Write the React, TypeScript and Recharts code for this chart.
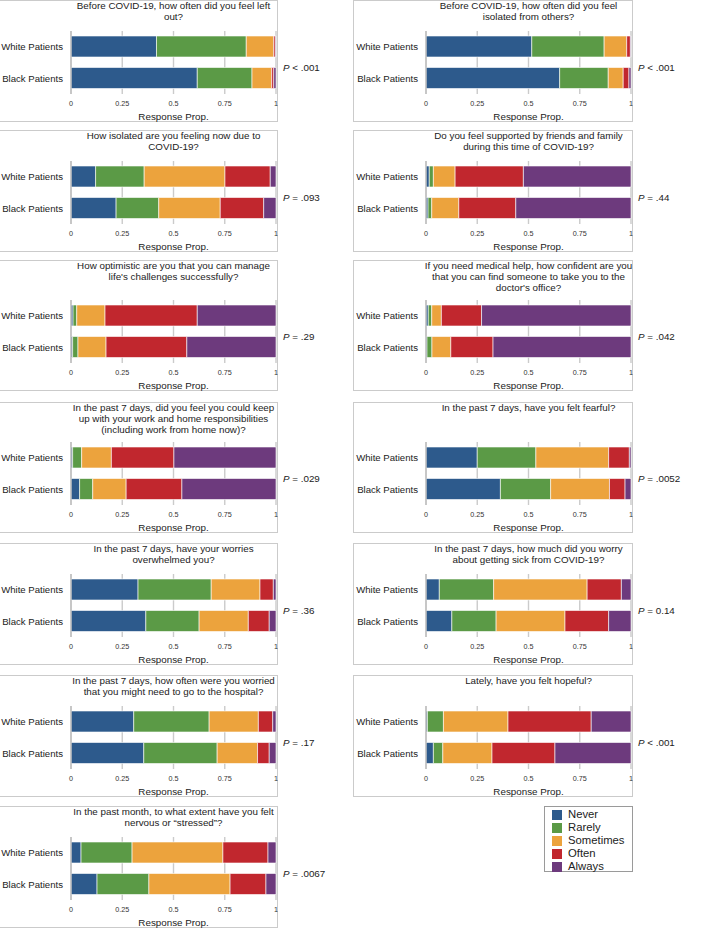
import React from "react";
import { BarChart, Bar, XAxis, YAxis, CartesianGrid } from "recharts";

// Survey responses, White vs Black patients, as stacked proportions.

const RESPONSES = ["Never", "Rarely", "Sometimes", "Often", "Always"];
const GROUPS = ["White Patients", "Black Patients"];
const X_TICKS = [0, 0.25, 0.5, 0.75, 1];
const X_LABEL = "Response Prop.";

const TITLES = [
  ["Before COVID-19, how often did you feel left", "out?"],
  ["Before COVID-19, how often did you feel", "isolated from others?"],
  ["How isolated are you feeling now due to", "COVID-19?"],
  ["Do you feel supported by friends and family", "during this time of COVID-19?"],
  ["How optimistic are you that you can manage", "life's challenges successfully?"],
  [
    "If you need medical help, how confident are you",
    "that you can find someone to take you to the",
    "doctor's office?",
  ],
  [
    "In the past 7 days, did you feel you could keep",
    "up with your work and home responsibilities",
    "(including work from home now)?",
  ],
  ["In the past 7 days, have you felt fearful?"],
  ["In the past 7 days, have your worries", "overwhelmed you?"],
  ["In the past 7 days, how much did you worry", "about getting sick from COVID-19?"],
  ["In the past 7 days, how often were you worried", "that you might need to go to the hospital?"],
  ["Lately, have you felt hopeful?"],
  ["In the past month, to what extent have you felt", "nervous or \u201cstressed\u201d?"],
];

const P_VALUES = [
  "< .001", "< .001", "= .093", "= .44", "= .29", "= .042", "= .029",
  "= .0052", "= .36", "= 0.14", "= .17", "< .001", "= .0067",
];

// proportions per response (Never..Always)
const WHITE = [
  [0.417, 0.438, 0.134, 0.008, 0.003],
  [0.516, 0.353, 0.11, 0.018, 0.003],
  [0.12, 0.237, 0.394, 0.221, 0.028],
  [0.016, 0.02, 0.106, 0.333, 0.525],
  [0.01, 0.018, 0.138, 0.45, 0.384],
  [0.011, 0.017, 0.047, 0.196, 0.729],
  [0.008, 0.044, 0.145, 0.305, 0.498],
  [0.25, 0.286, 0.355, 0.101, 0.008],
  [0.327, 0.357, 0.238, 0.065, 0.013],
  [0.065, 0.265, 0.456, 0.167, 0.047],
  [0.306, 0.368, 0.24, 0.07, 0.016],
  [0.007, 0.078, 0.315, 0.406, 0.194],
  [0.049, 0.249, 0.443, 0.22, 0.039],
];

const BLACK = [
  [0.616, 0.267, 0.096, 0.01, 0.011],
  [0.652, 0.237, 0.073, 0.028, 0.01],
  [0.22, 0.208, 0.3, 0.212, 0.06],
  [0.01, 0.018, 0.132, 0.278, 0.562],
  [0.008, 0.026, 0.137, 0.394, 0.435],
  [0.005, 0.024, 0.092, 0.206, 0.673],
  [0.042, 0.064, 0.163, 0.272, 0.459],
  [0.363, 0.245, 0.287, 0.076, 0.029],
  [0.365, 0.26, 0.24, 0.102, 0.033],
  [0.126, 0.216, 0.336, 0.213, 0.109],
  [0.355, 0.358, 0.197, 0.057, 0.033],
  [0.036, 0.046, 0.24, 0.307, 0.371],
  [0.127, 0.253, 0.396, 0.175, 0.049],
];

const COLORS = ["#2d5a8c", "#5b9a46", "#eca33d", "#c1272e", "#6d3a7d"];

const FONT = '"Liberation Sans", Arial, Helvetica, sans-serif';
const BOX_W = 280;
const Y_AXIS_W = 73;
const ROW_TOP = [0, 130, 260, 402, 543, 675, 806];
const ROW_H = [122, 122, 131, 131, 122, 122, 122];

// plain text tick so recharts does not wrap "White Patients"
function GroupTick(props: any) {
  const { x, y, payload } = props;
  return (
    <text
      x={x}
      y={y}
      dy="0.35em"
      textAnchor="end"
      fontSize={9.6}
      fill="#222"
      fontFamily={FONT}
    >
      {payload.value}
    </text>
  );
}

function Panel({ index }: { index: number }) {
  const col = index % 2;
  const row = Math.floor(index / 2);
  const left = col === 0 ? -2 : 353;
  const top = ROW_TOP[row];
  const h = ROW_H[row];

  const data = GROUPS.map((group, gi) => {
    const vals = gi === 0 ? WHITE[index] : BLACK[index];
    const d: Record<string, string | number> = { group };
    RESPONSES.forEach((r, ri) => (d[r] = vals[ri]));
    return d;
  });

  const plotCenter = Y_AXIS_W + (BOX_W - 2 - Y_AXIS_W) / 2;

  return (
    <>
      <div style={{ position: "absolute", left, top, width: BOX_W, height: h }}>
        <div
          style={{
            position: "absolute",
            inset: 0,
            border: "1px solid #cbcbcb",
            boxSizing: "border-box",
          }}
        />
        <div
          style={{
            position: "absolute",
            top: 0,
            left: plotCenter,
            transform: "translateX(-50%)",
            whiteSpace: "nowrap",
            textAlign: "center",
            fontSize: 9.8,
            lineHeight: "11px",
            color: "#222",
          }}
        >
          {TITLES[index].map((line, i) => (
            <div key={i}>{line}</div>
          ))}
        </div>
        <div style={{ position: "absolute", left: 0, top: 0 }}>
          <BarChart
            width={BOX_W}
            height={h}
            data={data}
            layout="vertical"
            barSize={21}
            margin={{ top: h - 91, right: 2, left: 0, bottom: 0 }}
          >
            <CartesianGrid horizontal={false} stroke="#cbcbcb" strokeWidth={1.4} />
            <XAxis
              type="number"
              domain={[0, 1]}
              ticks={X_TICKS}
              height={28}
              axisLine={false}
              tickLine={false}
              tickSize={0}
              tickMargin={6.5}
              tick={{ fontSize: 7.2, fill: "#333", fontFamily: FONT }}
            />
            <YAxis
              type="category"
              dataKey="group"
              width={Y_AXIS_W}
              axisLine={{ stroke: "#bdbdbd", strokeWidth: 1.3 }}
              tickLine={false}
              tickSize={0}
              tickMargin={8}
              tick={<GroupTick />}
            />
            {RESPONSES.map((r, ri) => (
              <Bar
                key={r}
                dataKey={r}
                stackId="s"
                fill={COLORS[ri]}
                stroke="#ffffff"
                strokeWidth={0.6}
                isAnimationActive={false}
              />
            ))}
          </BarChart>
        </div>
        <div
          style={{
            position: "absolute",
            top: h - 6,
            left: plotCenter,
            transform: "translate(-50%, -50%)",
            whiteSpace: "nowrap",
            fontSize: 9.8,
            lineHeight: "11px",
            color: "#222",
          }}
        >
          {X_LABEL}
        </div>
      </div>
      <div
        style={{
          position: "absolute",
          left: left + BOX_W + 5,
          top: top + h - 54.5 - 6,
          lineHeight: "12px",
          fontSize: 9.8,
          color: "#222",
          whiteSpace: "nowrap",
        }}
      >
        <i>P</i> {P_VALUES[index]}
      </div>
    </>
  );
}

function LegendBox() {
  return (
    <div
      style={{
        position: "absolute",
        left: 544,
        top: 806,
        width: 89,
        height: 66,
        border: "1px solid #9a9a9a",
        boxSizing: "border-box",
        paddingTop: 1,
      }}
    >
      {RESPONSES.map((r, i) => (
        <div
          key={r}
          style={{ display: "flex", alignItems: "center", height: 13, paddingLeft: 7 }}
        >
          <div style={{ width: 10, height: 10, background: COLORS[i], marginRight: 6 }} />
          <span style={{ fontSize: 11.3, lineHeight: "13px", color: "#222" }}>{r}</span>
        </div>
      ))}
    </div>
  );
}

export default function App() {
  return (
    <div
      style={{
        position: "absolute",
        left: 0,
        top: 0,
        width: 709,
        height: 929,
        overflow: "hidden",
        background: "#fff",
        fontFamily: FONT,
      }}
    >
      {TITLES.map((_, i) => (
        <Panel key={i} index={i} />
      ))}
      <LegendBox />
    </div>
  );
}
